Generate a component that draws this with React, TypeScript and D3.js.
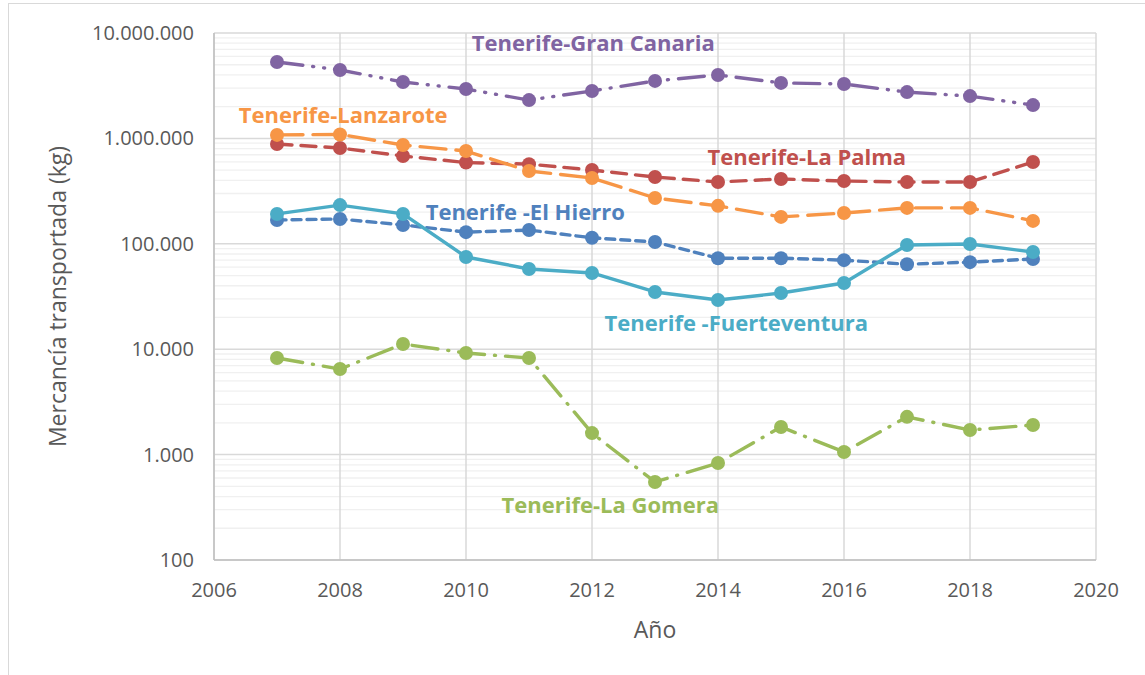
import React from 'react';
import * as d3 from 'd3';

// años y mercancía transportada (kg) por ruta
const years = [2007, 2008, 2009, 2010, 2011, 2012, 2013, 2014, 2015, 2016, 2017, 2018, 2019];
const granCanaria = [5310000, 4460000, 3430000, 2940000, 2310000, 2820000, 3510000, 4000000, 3360000, 3280000, 2750000, 2520000, 2070000];
const lanzarote = [1080000, 1090000, 865000, 759000, 491000, 421000, 272000, 229000, 180000, 196000, 219000, 219000, 165000];
const laPalma = [885000, 811000, 681000, 590000, 570000, 501000, 430000, 386000, 412000, 394000, 386000, 386000, 597000];
const elHierro = [168000, 172000, 151000, 129000, 135000, 114000, 104000, 73000, 73000, 70000, 64000, 67000, 71700];
const fuerteventura = [192000, 233000, 192000, 75000, 57700, 52900, 34900, 29300, 34100, 42500, 97500, 99500, 83600];
const laGomera = [8250, 6480, 11200, 9200, 8250, 1600, 550, 832, 1830, 1060, 2280, 1710, 1910];

const yTicks = [100, 1000, 10000, 100000, 1000000, 10000000];
const xTicks = [2006, 2008, 2010, 2012, 2014, 2016, 2018, 2020];

const W = 1145, H = 675;
const margin = { top: 33, right: 49, bottom: 115, left: 214 };

const es = d3.formatLocale({ decimal: ',', thousands: '.', grouping: [3], currency: ['', '€'] });
const fmt = es.format(',d');

const series = [
  { name: 'Tenerife -El Hierro', values: elHierro, color: '#4F81BD', dash: '9,6', label: [2010.94, 200000] },
  { name: 'Tenerife-La Palma', values: laPalma, color: '#C0504D', dash: '15,9', label: [2015.41, 667000] },
  { name: 'Tenerife-La Gomera', values: laGomera, color: '#9BBB59', dash: '26,10,1,10', label: [2012.29, 333] },
  { name: 'Tenerife-Gran Canaria', values: granCanaria, color: '#8064A2', dash: '26,10,1,10,1,10', label: [2012.02, 8040000] },
  { name: 'Tenerife-Lanzarote', values: lanzarote, color: '#F79646', dash: '26,10', label: [2008.05, 1667000] },
  { name: 'Tenerife -Fuerteventura', values: fuerteventura, color: '#4BACC6', dash: null, label: [2014.29, 17700] },
];

export default function App() {
  const x = d3.scaleLinear().domain([2006, 2020]).range([margin.left, W - margin.right]);
  const y = d3.scaleLog().domain([100, 10000000]).range([H - margin.bottom, margin.top]);

  // líneas menores 2..9 de cada década
  const minor: number[] = [];
  yTicks.slice(0, -1).forEach(d => {
    for (let k = 2; k <= 9; k++) minor.push(d * k);
  });

  const font = "'Open Sans', sans-serif";

  return (
    <svg width={W} height={H} style={{ position: 'absolute', left: 0, top: 0, background: '#fff' }}>
      <rect x={8.5} y={3.5} width={W} height={H} fill="#fff" stroke="#d9d9d9" />
      {minor.map(v => (
        <line key={'m' + v} x1={x(2006)} x2={x(2020)} y1={y(v)} y2={y(v)} stroke="#f0f0f0" strokeWidth={1.3} />
      ))}
      {yTicks.map(v => (
        <line key={'g' + v} x1={x(2006)} x2={x(2020)} y1={y(v)} y2={y(v)} stroke="#d9d9d9" strokeWidth={1.5} />
      ))}
      {xTicks.map(t => (
        <line key={'v' + t} x1={x(t)} x2={x(t)} y1={y(10000000)} y2={y(100)} stroke="#d9d9d9" strokeWidth={1.5} />
      ))}
      <line x1={x(2006)} x2={x(2006)} y1={y(10000000)} y2={y(100)} stroke="#bfbfbf" strokeWidth={1.5} />
      <line x1={x(2006)} x2={x(2020)} y1={y(100)} y2={y(100)} stroke="#bfbfbf" strokeWidth={1.5} />

      {yTicks.map(v => (
        <text key={'yt' + v} x={x(2006) - 20} y={y(v)} dy="0.35em" textAnchor="end" fontFamily={font} fontSize={20} fill="#595959">
          {fmt(v)}
        </text>
      ))}
      {xTicks.map(t => (
        <text key={'xt' + t} x={x(t)} y={y(100) + 30} dy="0.35em" textAnchor="middle" fontFamily={font} fontSize={20} fill="#595959">
          {t}
        </text>
      ))}
      <text x={655} y={630} dy="0.35em" textAnchor="middle" fontFamily={font} fontSize={23} fill="#595959">Año</text>
      <text transform={`translate(58,${(margin.top + H - margin.bottom) / 2}) rotate(-90)`} dy="0.35em" textAnchor="middle" fontFamily={font} fontSize={23} fill="#595959">
        Mercancía transportada (kg)
      </text>

      {series.map(s => {
        const line = d3.line<number>().x((_, i) => x(years[i])).y(d => y(d));
        return (
          <g key={s.name}>
            <path d={line(s.values) || ''} fill="none" stroke={s.color} strokeWidth={3.4}
              strokeDasharray={s.dash || undefined} strokeLinecap="round" strokeLinejoin="round" />
            {s.values.map((v, i) => (
              <circle key={i} cx={x(years[i])} cy={y(v)} r={7} fill={s.color} />
            ))}
          </g>
        );
      })}
      {series.map(s => (
        <text key={'l' + s.name} x={x(s.label[0])} y={y(s.label[1])} dy="0.35em" textAnchor="middle"
          fontFamily={font} fontWeight={700} fontSize={22} fill={s.color}>
          {s.name}
        </text>
      ))}
    </svg>
  );
}
